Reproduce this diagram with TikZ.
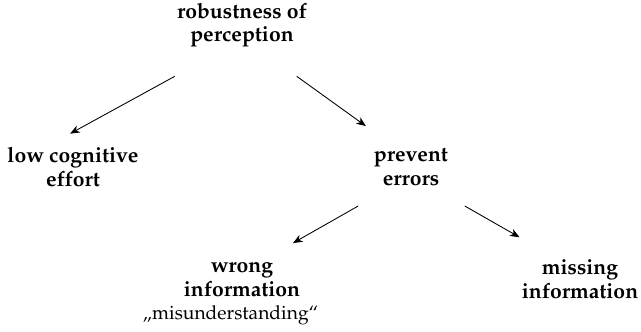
\documentclass[tikz,border=0pt]{standalone}
\usepackage[T1]{fontenc}
\usepackage{mathpazo}
\usetikzlibrary{arrows.meta}

\begin{document}
\begin{tikzpicture}[x=0.52pt,y=-0.52pt]

      \useasboundingbox (0,0) rectangle (641,331);

      \begin{scope}[every node/.style={align=center, inner sep=0pt, font=\fontsize{11}{12.2}\selectfont\bfseries}]
        \node (robust)  at (242,25)  {robustness of\\perception};
        \node (effort)  at (73,167)  {low cognitive\\effort};
        \node (prevent) at (411,167) {prevent\\errors};
        \node (wrong)   at (242,294) {wrong\\information\\{\fontsize{10}{12.2}\selectfont\mdseries\quotedblbase misunderstanding\textquotedblleft\hspace*{12pt}}};
        \node (missing) at (580,279) {missing\\information};
      \end{scope}

      \begin{scope}[every path/.style={-{Stealth[length=5pt,width=4pt,inset=1.5pt]}, line width=0.45pt}]
        \draw ([xshift=-1pt,yshift=-15pt]robust.south west) -- ([xshift=-1.5pt,yshift=7pt]effort.north);
        \draw ([xshift=-5.5pt,yshift=-15pt]robust.south east) -- ([xshift=-4pt,yshift=11.5pt]prevent.north west);
        \draw ([xshift=-8pt,yshift=-10.5pt]prevent.south west) -- ([xshift=26.5pt,yshift=10pt]wrong.north);
        \draw ([xshift=8.5pt,yshift=-10.5pt]prevent.south east) -- ([xshift=-1pt,yshift=11.5pt]missing.north west);
      \end{scope}

    \end{tikzpicture}
\end{document}
